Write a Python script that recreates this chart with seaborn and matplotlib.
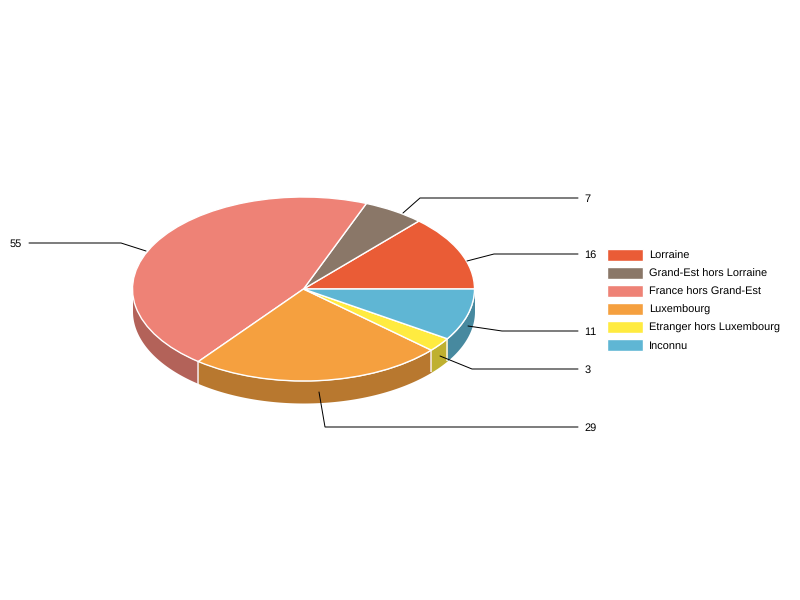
import numpy as np
import matplotlib
matplotlib.use("Agg")
import matplotlib.pyplot as plt
import seaborn as sns

# data
categories = ['Lorraine', 'Grand-Est hors Lorraine', 'France hors Grand-Est',
              'Luxembourg', 'Etranger hors Luxembourg', 'Inconnu']
values = [16, 7, 55, 29, 3, 11]
colors = ['#EA5C36', '#8A7768', '#EE8276', '#F5A03F', '#FFEB40', '#5FB6D4']

sns.set_theme(style='white')
plt.rcParams['font.family'] = ['Liberation Sans', 'DejaVu Sans']
plt.rcParams['text.hinting'] = 'none'
plt.rcParams['text.kerning_factor'] = 6
palette = sns.color_palette(colors)
FS = 11 * 72 / 100  # 11px text

# pie geometry, in pixels of the 800x600 picture
CX, CY, RX, RY, DEPTH = 303.5, 289, 171, 92, 22

fig = plt.figure(figsize=(8, 6), dpi=100)
ax = fig.add_axes([0, 0, 1, 1])

wedges, _ = ax.pie(values, colors=palette, startangle=0, counterclock=True,
                   wedgeprops={'edgecolor': 'white', 'linewidth': 1.0, 'zorder': 3})
ax.set_aspect('auto')
ax.set_xlim(-CX / RX, (800 - CX) / RX)
ax.set_ylim((CY - 600) / RY, CY / RY)
ax.set_axis_off()

# side wall of the disc: only the front half (180-360 degrees) shows
depth = DEPTH / RY
edges = np.concatenate([[0], np.cumsum(values)]) / sum(values) * 360
for i, c in enumerate(palette):
    a0, a1 = max(edges[i], 180), min(edges[i + 1], 360)
    if a1 <= a0:
        continue
    t = np.radians(np.linspace(a0, a1, 100))
    dark = tuple(v * 0.75 for v in c)
    ax.fill_between(np.cos(t), np.sin(t), np.sin(t) - depth, color=dark,
                    linewidth=0, zorder=1)
    # white seam between two walls
    if a0 > 180:
        x0, y0 = np.cos(t[0]), np.sin(t[0])
        ax.plot([x0, x0], [y0, y0 - depth], color='white', lw=1.2, alpha=0.8,
                zorder=2, solid_capstyle='butt')


def px(x, y):
    return (x - CX) / RX, (CY - y) / RY


# leader lines and value labels, in picture pixels
leaders = [
    (16, [(467, 261), (494, 254), (578, 254)], 584.5, 'left'),
    (7, [(403, 213), (420, 198), (578, 198)], 584.5, 'left'),
    (55, [(146, 251), (121, 243), (29, 243)], 22, 'right'),
    (29, [(319, 392), (325, 427), (578, 427)], 584.5, 'left'),
    (3, [(440, 356), (472, 369), (578, 369)], 584.5, 'left'),
    (11, [(468, 326), (502, 331), (578, 331)], 584.5, 'left'),
]
for val, pts, tx, ha in leaders:
    xy = np.array([px(*p) for p in pts])
    ax.plot(xy[:, 0], xy[:, 1], color='black', lw=0.72, zorder=5,
            solid_joinstyle='miter')
    ax.text(*px(tx, pts[-1][1]), str(val), ha=ha, va='center_baseline',
            fontsize=FS, color='black', zorder=6)

fig.legend(wedges, categories, loc='upper left',
           bbox_to_anchor=(607 / 800, 1 - 249 / 600), frameon=False,
           fontsize=FS, handlelength=36 / 11, handleheight=1.30,
           labelspacing=6 / 11, handletextpad=6 / 11,
           borderpad=0, borderaxespad=0, labelcolor='black')

fig.savefig('out.png', dpi=100, facecolor='white')
